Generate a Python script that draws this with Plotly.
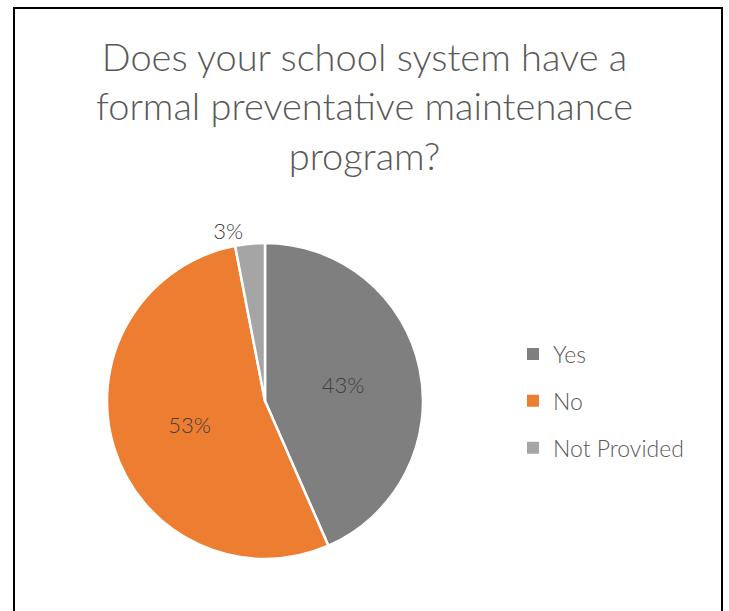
import plotly.graph_objects as go

# Survey responses (percent of school systems)
categories = ["Yes", "No", "Not Provided"]
percents = [43, 53, 3]
slice_colors = ["#7F7F7F", "#ED7D31", "#A5A5A5"]
label_positions = ["inside", "inside", "outside"]

title_text = "Does your school system have a<br>formal preventative maintenance<br>program?"

W, H = 729, 611
FONT = "Lato, 'Open Sans', sans-serif"
TEXT_GREY = "#595959"

fig = go.Figure()

fig.add_trace(
    go.Pie(
        labels=categories,
        values=percents,
        sort=False,
        direction="clockwise",
        rotation=0,
        marker=dict(colors=slice_colors, line=dict(color="white", width=2.5)),
        texttemplate="%{value}%",
        textposition=label_positions,
        insidetextorientation="horizontal",
        textfont=dict(family=FONT, size=22, color="#404040", weight=300),
        hoverinfo="label+value",
        showlegend=False,
        domain=dict(x=[107 / W, 423 / W], y=[1 - 559 / H, 1 - 243 / H]),
    )
)

# Legend entries: one square swatch per category, spaced apart by legend groups
for name, color in zip(categories, slice_colors):
    fig.add_trace(
        go.Scatter(
            x=[None], y=[None],
            mode="markers",
            name=name,
            legendgroup=name,
            marker=dict(symbol="square", size=11, color=color),
            hoverinfo="skip",
        )
    )

fig.update_layout(
    width=W,
    height=H,
    margin=dict(l=0, r=0, t=0, b=0),
    paper_bgcolor="white",
    plot_bgcolor="white",
    font=dict(family=FONT, color=TEXT_GREY),
    xaxis=dict(visible=False),
    yaxis=dict(visible=False),
    title=dict(
        text=title_text,
        x=0.5, xanchor="center",
        y=1 - 71 / H, yanchor="top",
        font=dict(family=FONT, size=38, color=TEXT_GREY, weight=300),
    ),
    showlegend=True,
    legend=dict(
        x=513 / W, xanchor="left",
        y=1 - 401 / H, yanchor="middle",
        font=dict(family=FONT, size=23, color=TEXT_GREY, weight=300),
        tracegroupgap=14,
        itemsizing="constant",
        bgcolor="rgba(0,0,0,0)",
    ),
    shapes=[
        dict(
            type="rect", xref="paper", yref="paper",
            x0=14 / W, x1=722 / W, y0=-0.05, y1=1 - 8 / H,
            line=dict(color="black", width=2),
            fillcolor="rgba(0,0,0,0)",
        )
    ],
)

fig.write_html("out.html")
